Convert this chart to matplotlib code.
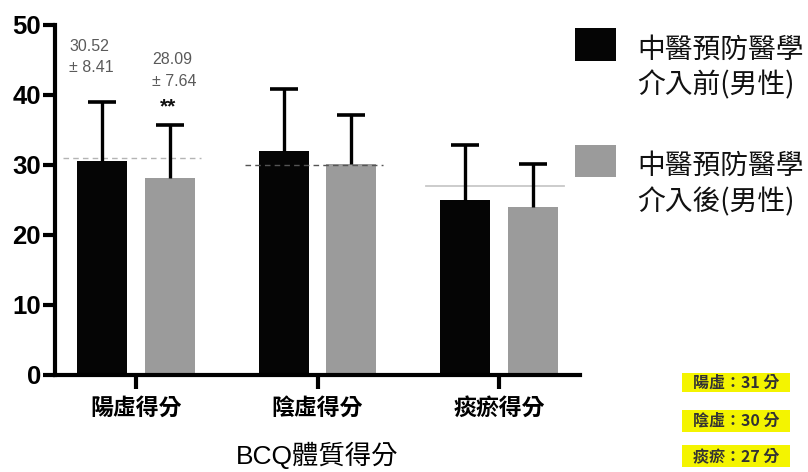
import matplotlib
matplotlib.use("Agg")
import matplotlib.pyplot as plt
import numpy as np
from matplotlib.patches import Rectangle

# Body-constitution (BCQ) scores, male participants, before / after intervention
categories = ["陽虛得分", "陰虛得分", "痰瘀得分"]
before_mean = [30.52, 32.0, 25.0]
before_sd = [8.41, 8.8, 7.9]
after_mean = [28.09, 30.1, 24.0]
after_sd = [7.64, 7.0, 6.1]
series_labels = ["中醫預防醫學\n介入前(男性)", "中醫預防醫學\n介入後(男性)"]
ref_names = ["陽虛", "陰虛", "痰瘀"]
ref_scores = [31, 30, 27]
y_ticks = [0, 10, 20, 30, 40, 50]
x_title = "BCQ體質得分"

C_BEFORE = "#050505"
C_AFTER = "#9b9b9b"
LATIN_CJK = ["Liberation Sans", "Noto Sans CJK TC"]
CJK = ["Noto Sans CJK TC", "Liberation Sans"]

W, H = 808, 472
fig = plt.figure(figsize=(W / 100, H / 100), dpi=100)
fig.patch.set_facecolor("white")


def fx(px):
    return px / W


def fy(py):
    return 1 - py / H


ax = fig.add_axes([fx(55), fy(375), fx(580) - fx(55), fy(25) - fy(375)])

x = np.arange(len(categories))
bw = 0.275
off = 0.187

# reference lines for each constitution type
ref_styles = [
    dict(color="#b4b4b4", ls=(0, (4, 3)), lw=1.0),
    dict(color="#555555", ls=(0, (4, 3)), lw=1.0),
    dict(color="#c8c8c8", ls="-", lw=1.3),
]
for xi, val, st in zip(x, ref_scores, ref_styles):
    ax.plot([xi - 0.40, xi + 0.36], [val, val], zorder=3, **st)

ax.bar(x - off, before_mean, bw, color=C_BEFORE, zorder=2)
ax.bar(x + off, after_mean, bw, color=C_AFTER, zorder=2)

# upper-only error bars: stem from the bar top plus a single cap
for xs, m, sd in [(x - off, before_mean, before_sd), (x + off, after_mean, after_sd)]:
    m = np.asarray(m)
    sd = np.asarray(sd)
    ax.errorbar(xs, m, yerr=[np.zeros(len(m)), sd], fmt="none", ecolor="black",
                elinewidth=2.4, capsize=0, zorder=4)
    ax.plot(xs, m + sd, ls="none", marker="_", ms=19.5, mew=2.6,
            color="black", zorder=4)

ax.set_xlim(-0.446, 2.446)
ax.set_ylim(0, 50)
ax.set_yticks(y_ticks)
ax.set_xticks(x)
ax.set_xticklabels(categories, fontsize=16.5, fontweight="bold", family=CJK)
for lab in ax.get_yticklabels():
    lab.set_fontsize(18.5)
    lab.set_fontweight("bold")
    lab.set_family(LATIN_CJK)

for s in ["top", "right"]:
    ax.spines[s].set_visible(False)
for s in ["left", "bottom"]:
    ax.spines[s].set_linewidth(3.0)
ax.tick_params(axis="y", length=9, width=3.0, pad=1)
ax.tick_params(axis="x", length=10, width=3.0, pad=6)

ax.set_xlabel(x_title, fontsize=19, family=LATIN_CJK, va="center")
ax.xaxis.set_label_coords(0.5, -0.229)

# mean ± SD annotations
ax.text(-0.369, 45.4, f"{before_mean[0]:.2f}\n± {before_sd[0]:.2f}", ha="left",
        va="center", fontsize=11.5, color="#5a5a5a", linespacing=1.55,
        family=LATIN_CJK, zorder=5)
ax.text(0.088, 43.5, f"{after_mean[0]:.2f}\n± {after_sd[0]:.2f}", ha="left",
        va="center", fontsize=11.5, color="#5a5a5a", linespacing=1.55,
        family=LATIN_CJK, zorder=5)
ax.text(0.176, 38.3, "**", ha="center", va="center", fontsize=15,
        fontweight="bold", color="#111111", family=LATIN_CJK, zorder=5)

# legend, drawn by hand on the figure
for (top, bottom), col, lab in [((28, 61), C_BEFORE, series_labels[0]),
                                ((145, 177), C_AFTER, series_labels[1])]:
    fig.add_artist(Rectangle((fx(575), fy(bottom)), fx(616) - fx(575),
                             fy(top) - fy(bottom), transform=fig.transFigure,
                             facecolor=col, edgecolor="none"))
    fig.text(fx(637), fy((top + bottom) / 2 + 23), lab, ha="left", va="center",
             fontsize=20, family=CJK, color="#111111", linespacing=1.25)

# highlighted reference scores
boxes = [(373, 392), (410, 432), (445, 467)]
for (t, b), name, val in zip(boxes, ref_names, ref_scores):
    fig.add_artist(Rectangle((fx(682), fy(b)), fx(790) - fx(682), fy(t) - fy(b),
                             transform=fig.transFigure, facecolor="#f4f400",
                             edgecolor="none"))
    fig.text(fx(736), fy((t + b) / 2), f"{name}：{val} 分", ha="center",
             va="center", fontsize=11.5, fontweight="bold", color="#333333",
             family=CJK)

fig.savefig("out.png", dpi=100, facecolor="white")
